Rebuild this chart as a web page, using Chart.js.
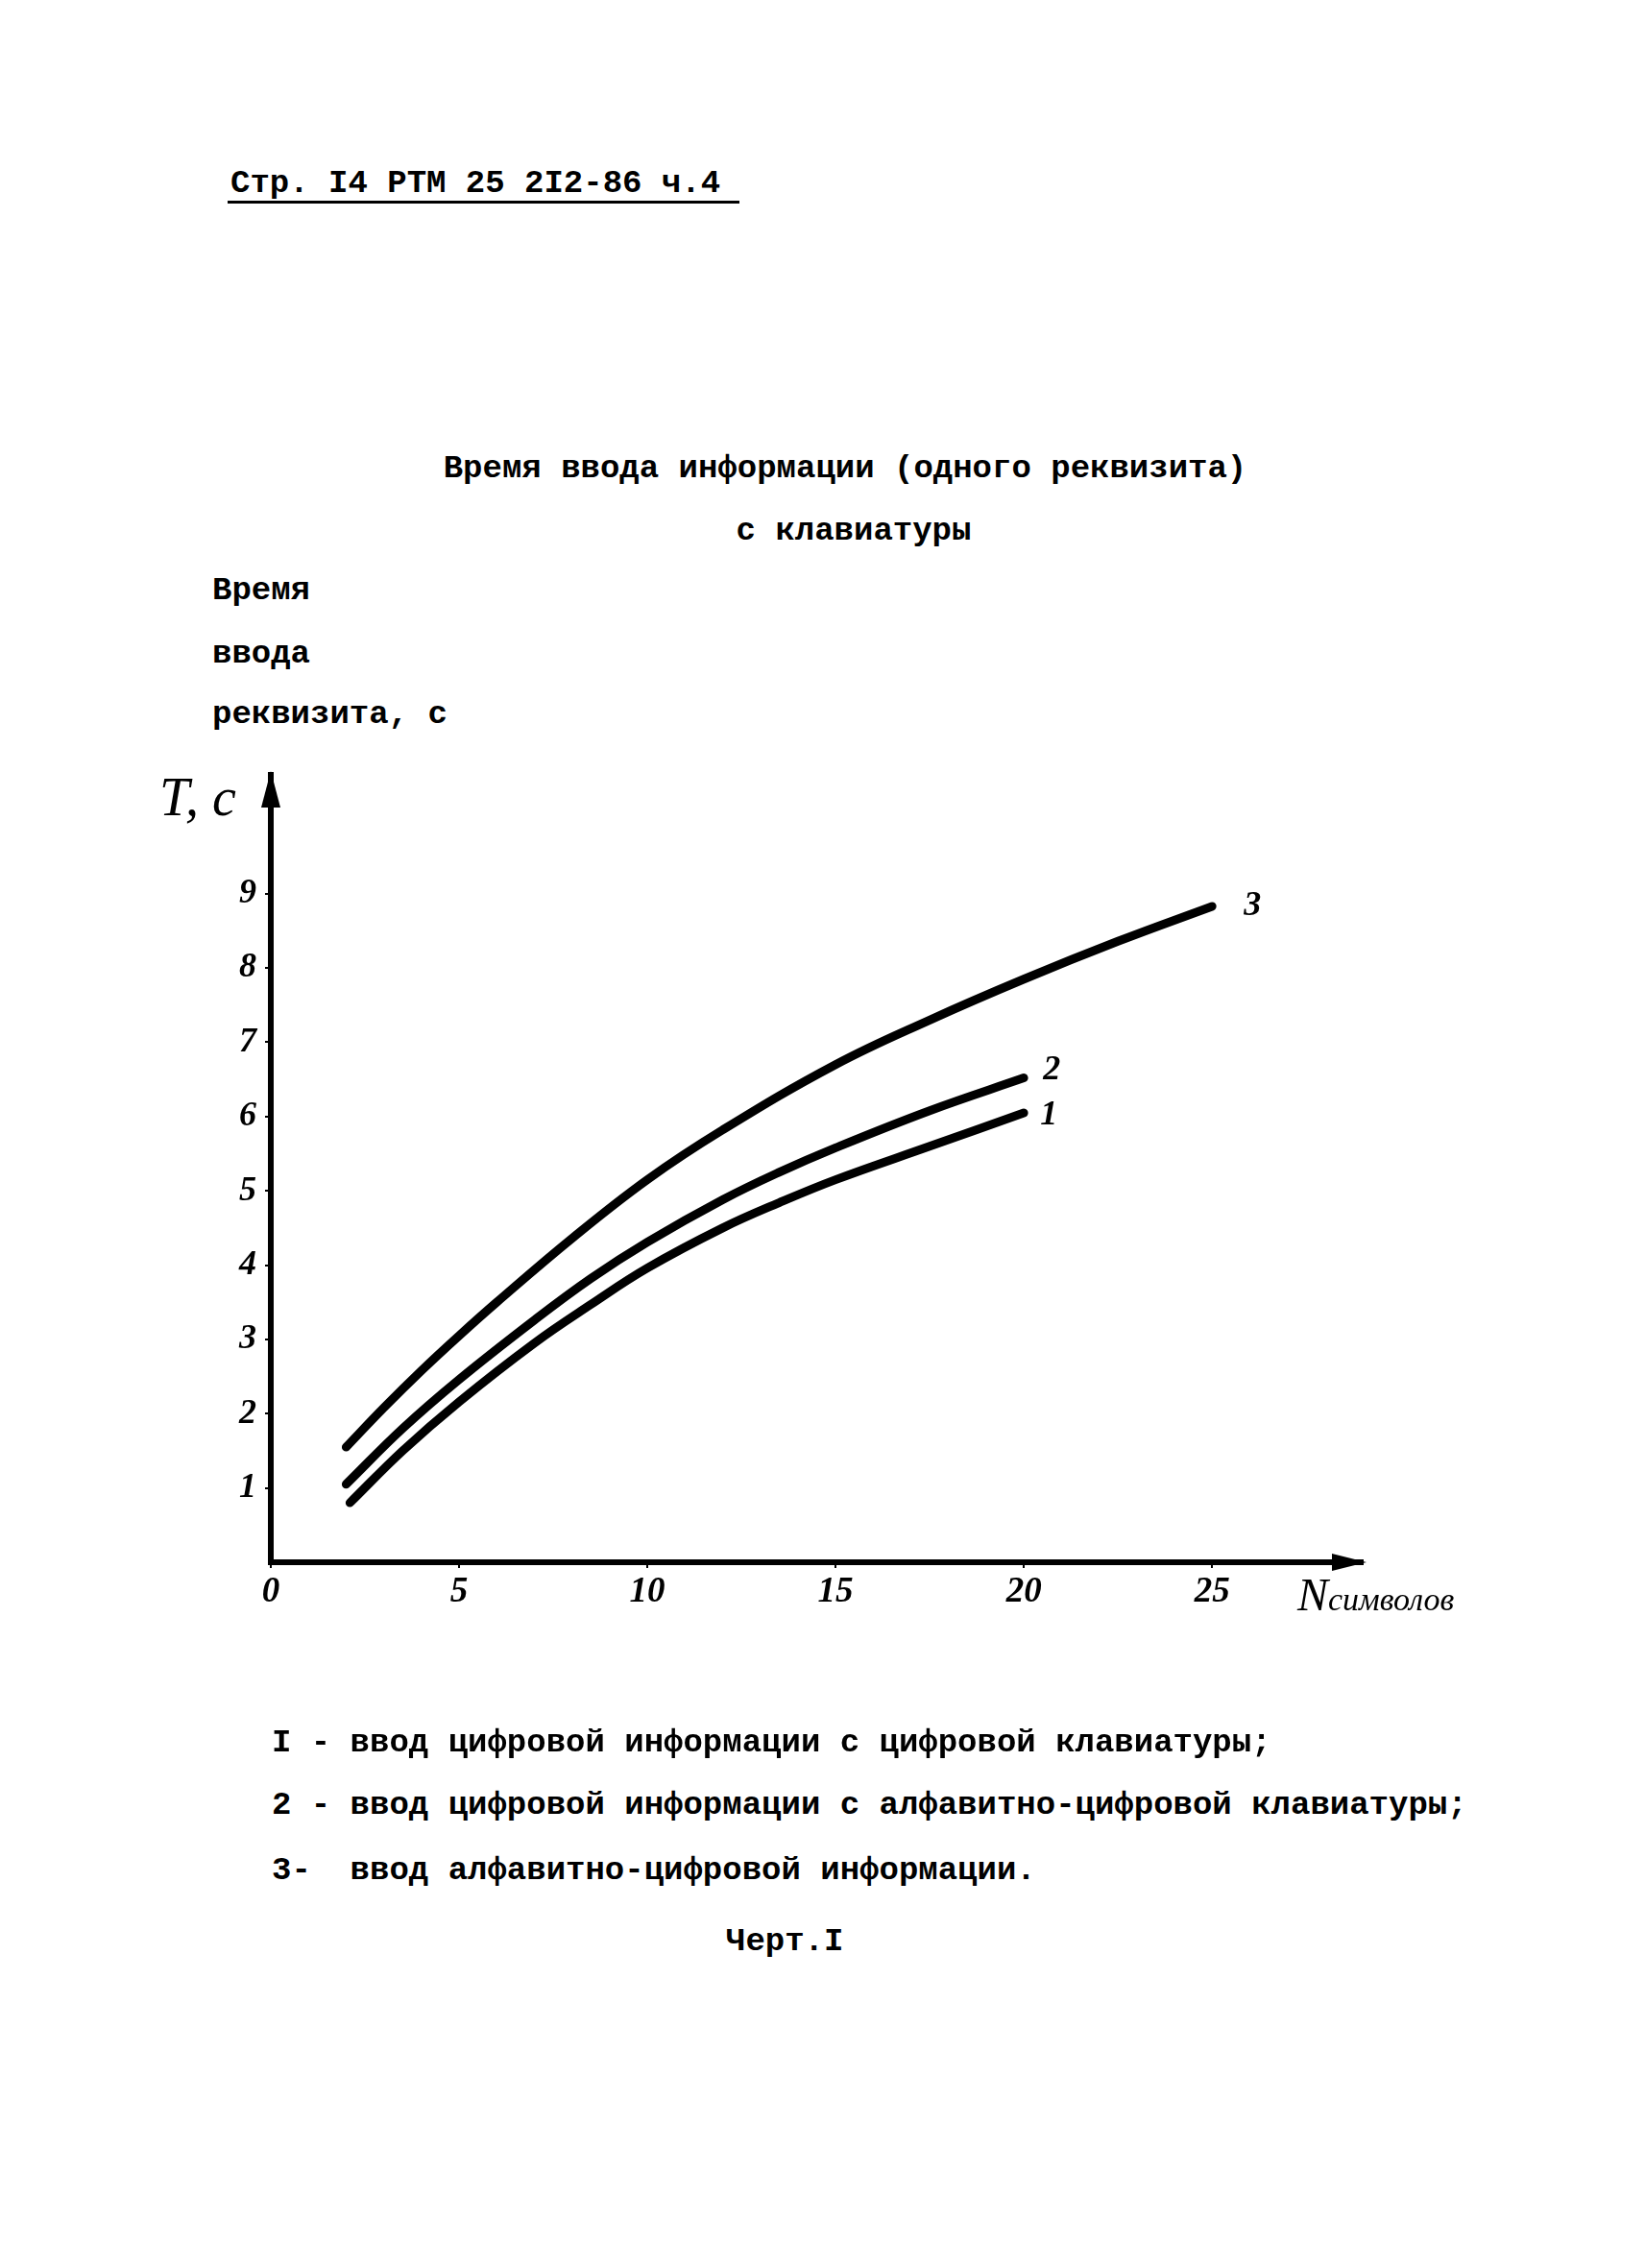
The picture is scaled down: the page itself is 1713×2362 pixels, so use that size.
<!DOCTYPE html>
<html>
<head>
<meta charset="utf-8">
<script src="https://cdn.jsdelivr.net/npm/chart.js@4.4.1/dist/chart.umd.min.js"></script>
<style>
html, body { margin: 0; padding: 0; background: #fff; }
body {
  width: 1713px; height: 2362px; position: relative; overflow: hidden;
  font-family: "Liberation Mono", monospace; font-weight: bold; font-size: 34px; color: #000;
}
.t { position: absolute; white-space: pre; line-height: 1; }
#wrap { position: absolute; left: 0; top: 700px; width: 1713px; height: 1100px; }
</style>
</head>
<body>
<div class="t" style="left:240px;top:174px;">Стр. I4 РТМ 25 2I2-86 ч.4</div>
<div style="position:absolute;left:237px;top:209px;width:533px;height:3px;background:#000;"></div>

<div class="t" style="left:0;top:471px;width:1760px;text-align:center;">Время ввода информации (одного реквизита)</div>
<div class="t" style="left:0;top:536px;width:1778px;text-align:center;">с клавиатуры</div>

<div class="t" style="left:221px;top:598px;">Время</div>
<div class="t" style="left:221px;top:664px;">ввода</div>
<div class="t" style="left:221px;top:727px;">реквизита, с</div>

<div id="wrap"><canvas id="grafico"></canvas></div>

<div class="t" style="left:283px;top:1798px;">I - ввод цифровой информации с цифровой клавиатуры;</div>
<div class="t" style="left:283px;top:1863px;">2 - ввод цифровой информации с алфавитно-цифровой клавиатуры;</div>
<div class="t" style="left:283px;top:1931px;">3-  ввод алфавитно-цифровой информации.</div>

<div class="t" style="left:756px;top:2005px;">Черт.I</div>

<script>
// значения: N символов -> T, с
const n1 = [2.1, 3.5, 5, 7, 8.5, 10, 12, 13.5, 15, 17.5, 20];
const t1 = [0.8, 1.5, 2.16, 2.95, 3.47, 3.96, 4.5, 4.84, 5.15, 5.6, 6.05];

const n2 = [2, 3.5, 5, 7, 8.5, 10, 12, 13.5, 15, 17.5, 20];
const t2 = [1.05, 1.8, 2.46, 3.26, 3.82, 4.31, 4.88, 5.25, 5.58, 6.08, 6.52];

const n3 = [2, 3, 4, 5, 6, 8, 10, 12, 15, 17.5, 20, 22.5, 25];
const t3 = [1.55, 2.08, 2.58, 3.05, 3.5, 4.36, 5.15, 5.82, 6.7, 7.3, 7.85, 8.36, 8.83];

const curveNames = ['1', '2', '3'];
const xTicks = [0, 5, 10, 15, 20, 25];
const yTicks = [1, 2, 3, 4, 5, 6, 7, 8, 9];
const xMax = 29;
const yMax = 10.6;

function pontos(ns, ts) {
  return ns.map((n, i) => ({ x: n, y: ts[i] }));
}

const fonteNum = { family: '"Liberation Serif", serif', style: 'italic', weight: 'bold', size: 37 };

// setas dos eixos e rótulos escritos à mão
const decor = {
  id: 'decor',
  afterDraw(chart) {
    const { ctx, scales: { x, y } } = chart;
    const x0 = x.getPixelForValue(0), y0 = y.getPixelForValue(0);
    const xEnd = x.getPixelForValue(xMax), yEnd = y.getPixelForValue(yMax);
    ctx.save();
    ctx.fillStyle = '#000';

    ctx.beginPath();
    ctx.moveTo(x0, yEnd - 4);
    ctx.lineTo(x0 - 10, yEnd + 34);
    ctx.lineTo(x0 + 10, yEnd + 34);
    ctx.closePath();
    ctx.fill();

    ctx.beginPath();
    ctx.moveTo(xEnd + 4, y0);
    ctx.lineTo(xEnd - 32, y0 - 9);
    ctx.lineTo(xEnd - 32, y0 + 9);
    ctx.closePath();
    ctx.fill();

    ctx.textBaseline = 'alphabetic';
    ctx.textAlign = 'left';
    ctx.font = 'italic 56px "Liberation Serif"';
    ctx.fillText('T, c', x0 - 116, yEnd + 42);

    ctx.font = 'italic 48px "Liberation Serif"';
    ctx.fillText('N', xEnd - 68, y0 + 50);
    const wN = ctx.measureText('N').width;
    ctx.font = 'italic 34px "Liberation Serif"';
    ctx.fillText('символов', xEnd - 68 + wN, y0 + 50);

    const offs = [[17, 3], [20, -8], [33, 0]];
    ctx.font = 'italic bold 36px "Liberation Serif"';
    ctx.textBaseline = 'middle';
    chart.data.datasets.forEach((ds, i) => {
      const last = ds.data[ds.data.length - 1];
      ctx.fillText(curveNames[i], x.getPixelForValue(last.x) + offs[i][0], y.getPixelForValue(last.y) + offs[i][1]);
    });
    ctx.restore();
  }
};

const linha = { borderColor: '#000', borderWidth: 9, pointRadius: 0, fill: false,
  tension: 0.4, borderCapStyle: 'round' };

new Chart(document.getElementById('grafico'), {
  type: 'line',
  data: {
    datasets: [
      Object.assign({ label: curveNames[0], data: pontos(n1, t1) }, linha),
      Object.assign({ label: curveNames[1], data: pontos(n2, t2) }, linha),
      Object.assign({ label: curveNames[2], data: pontos(n3, t3) }, linha)
    ]
  },
  options: {
    responsive: true,
    maintainAspectRatio: false,
    animation: false,
    devicePixelRatio: 1,
    layout: { padding: { left: 0, right: 294, top: 107, bottom: 0 } },
    plugins: { legend: { display: false }, tooltip: { enabled: false } },
    scales: {
      x: {
        type: 'linear', min: 0, max: xMax,
        afterFit: s => { s.height = 173; },
        afterBuildTicks: s => { s.ticks = xTicks.map(v => ({ value: v })); },
        border: { display: true, color: '#000', width: 6 },
        grid: { display: true, drawOnChartArea: false, drawTicks: true, tickLength: 6, color: '#000', lineWidth: 2 },
        ticks: { color: '#000', font: fonteNum, padding: 3, maxRotation: 0 }
      },
      y: {
        type: 'linear', min: 0, max: yMax,
        afterFit: s => { s.width = 282; },
        afterBuildTicks: s => { s.ticks = yTicks.map(v => ({ value: v })); },
        border: { display: true, color: '#000', width: 6 },
        grid: { display: true, drawOnChartArea: false, drawTicks: true, tickLength: 6, color: '#000', lineWidth: 2 },
        ticks: { color: '#000', font: Object.assign({}, fonteNum, { size: 36 }), padding: 9 }
      }
    }
  },
  plugins: [decor]
});
</script>
</body>
</html>
